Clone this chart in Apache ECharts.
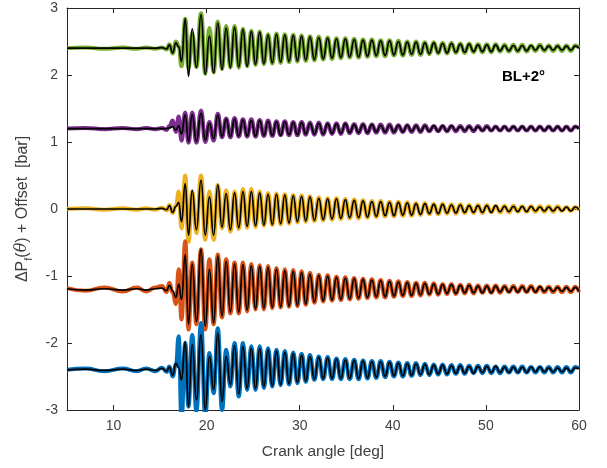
<!DOCTYPE html>
<html><head><meta charset="utf-8">
<script src="https://cdn.jsdelivr.net/npm/echarts@6/dist/echarts.min.js"></script>
<style>html,body{margin:0;padding:0;background:#fff}#c{width:607px;height:468px}</style>
</head><body><div id="c"></div><script>
// Crank-angle positions of the read points (extrema of the oscillations)
const angles = [
  5, 7, 9, 11, 12.5, 13.5, 14.5, 15.2, 15.7, 16.0, 16.35, 16.7, 17.0, 17.3,
  17.7, 18.05, 18.45, 18.9, 19.4, 19.85, 20.3, 20.75, 21.2, 21.65, 22.1, 22.55, 23.0, 23.45, 23.9, 24.35, 24.8, 25.25, 25.7, 26.15, 26.6,
  27.05, 27.5, 27.95, 28.4, 28.85, 29.3, 29.75, 30.2, 30.65, 31.1,
  31.57, 32.05, 32.52, 33.0, 33.47, 33.95, 34.42, 34.9, 35.37, 35.85, 36.32, 36.8, 37.27, 37.75, 38.22, 38.7, 39.17, 39.65,
  40.12, 40.6, 41.07, 41.55, 42.02, 42.5, 42.97, 43.45, 43.92, 44.4, 44.87, 45.35, 45.82, 46.3, 46.77, 47.25, 47.72, 48.2, 48.67, 49.15, 49.62,
  50.1, 50.57, 51.05, 51.52, 52.0, 52.47, 52.95, 53.42, 53.9, 54.37, 54.85, 55.32, 55.8, 56.27, 56.75, 57.22, 57.7, 58.17, 58.65, 59.12, 59.6,
  60
];
const offsets = [2.4, 1.2, 0, -1.2, -2.4];
const xTicks = [10, 20, 30, 40, 50, 60];
const yTicks = [-3, -2, -1, 0, 1, 2, 3];

const greenExp = [
  0, 0.01, -0.01, 0.01, -0.01, 0.01, -0.01, 0.01, -0.02, 0.06, -0.08, 0.1, 0.03, -0.27,
  0.44, -0.3, 0.22, -0.28, 0.52, -0.38, 0.3, -0.36, 0.4, -0.31, 0.33, -0.29, 0.33, -0.29, 0.29, -0.27, 0.26, -0.25, 0.25, -0.24, 0.21,
  -0.23, 0.22, -0.22, 0.21, -0.21, 0.2, -0.2, 0.19, -0.19, 0.18,
  -0.18, 0.17, -0.17, 0.16, -0.16, 0.15, -0.15, 0.15, -0.14, 0.14, -0.14, 0.13, -0.13, 0.13, -0.12, 0.12, -0.12, 0.12,
  -0.11, 0.11, -0.11, 0.1, -0.1, 0.1, -0.1, 0.09, -0.09, 0.09, -0.08, 0.08, -0.08, 0.08, -0.07, 0.07, -0.07, 0.07, -0.06, 0.06, -0.06,
  0.06, -0.06, 0.06, -0.05, 0.05, -0.05, 0.05, -0.05, 0.05, -0.05, 0.04, -0.04, 0.05, -0.04, 0.04, -0.04, 0.04, -0.04, 0.04, -0.04, 0.04,
  0
];
const greenModel = [
  0, 0, 0, 0, 0, 0, 0, 0.01, -0.01, 0.05, -0.07, 0.08, 0.02, -0.2,
  0.44, -0.42, 0.29, -0.29, 0.5, -0.39, 0.18, -0.37, 0.38, -0.32, 0.3, -0.29, 0.31, -0.28, 0.28, -0.27, 0.25, -0.24, 0.24, -0.23, 0.2,
  -0.22, 0.21, -0.21, 0.2, -0.2, 0.19, -0.19, 0.18, -0.18, 0.17,
  -0.17, 0.16, -0.16, 0.15, -0.15, 0.14, -0.14, 0.14, -0.13, 0.13, -0.13, 0.12, -0.12, 0.12, -0.11, 0.11, -0.11, 0.11,
  -0.1, 0.1, -0.1, 0.09, -0.09, 0.09, -0.09, 0.08, -0.08, 0.08, -0.07, 0.07, -0.07, 0.07, -0.06, 0.06, -0.06, 0.06, -0.05, 0.05, -0.05,
  0.05, -0.05, 0.05, -0.04, 0.04, -0.04, 0.04, -0.04, 0.04, -0.04, 0.04, -0.03, 0.04, -0.03, 0.03, -0.03, 0.03, -0.03, 0.03, -0.03, 0.03,
  0
];
const purpleExp = [
  0, 0.01, -0.01, 0.01, -0.01, 0.01, -0.01, 0.01, -0.02, 0.04, 0.12, -0.05, 0.18, -0.18,
  0.24, -0.21, 0.24, -0.21, 0.27, -0.2, 0.1, -0.18, 0.22, -0.13, 0.15, -0.13, 0.16, -0.12, 0.14, -0.12, 0.14, -0.12, 0.13, -0.11, 0.12,
  -0.11, 0.11, -0.1, 0.11, -0.1, 0.1, -0.1, 0.1, -0.09, 0.09,
  -0.09, 0.09, -0.09, 0.08, -0.08, 0.08, -0.08, 0.08, -0.07, 0.07, -0.07, 0.07, -0.07, 0.06, -0.06, 0.06, -0.06, 0.06,
  -0.06, 0.05, -0.05, 0.05, -0.05, 0.05, -0.05, 0.05, -0.04, 0.04, -0.04, 0.04, -0.04, 0.04, -0.04, 0.04, -0.04, 0.04, -0.04, 0.04, -0.03,
  0.04, -0.03, 0.03, -0.03, 0.03, -0.03, 0.03, -0.03, 0.03, -0.03, 0.03, -0.03, 0.03, -0.03, 0.03, -0.03, 0.03, -0.03, 0.03, -0.03, 0.03,
  0
];
const purpleModel = [
  0, 0, 0, 0, 0, 0, 0, 0, 0, 0.01, 0.03, -0.02, 0.04, -0.08,
  0.21, -0.19, 0.21, -0.19, 0.23, -0.17, 0.08, -0.15, 0.2, -0.12, 0.14, -0.12, 0.14, -0.11, 0.13, -0.11, 0.12, -0.11, 0.12, -0.1, 0.11,
  -0.1, 0.1, -0.1, 0.1, -0.09, 0.09, -0.09, 0.09, -0.08, 0.08,
  -0.08, 0.08, -0.08, 0.07, -0.07, 0.07, -0.07, 0.07, -0.06, 0.06, -0.06, 0.06, -0.06, 0.06, -0.05, 0.05, -0.05, 0.05,
  -0.05, 0.05, -0.05, 0.05, -0.04, 0.04, -0.04, 0.04, -0.04, 0.04, -0.04, 0.04, -0.04, 0.04, -0.03, 0.03, -0.03, 0.03, -0.03, 0.03, -0.03,
  0.03, -0.03, 0.03, -0.03, 0.03, -0.03, 0.03, -0.03, 0.03, -0.03, 0.03, -0.03, 0.03, -0.03, 0.03, -0.03, 0.03, -0.03, 0.03, -0.03, 0.03,
  0
];
const yellowExp = [
  0, 0.01, -0.01, 0.01, -0.01, 0.01, -0.01, 0.02, -0.02, 0.06, -0.06, 0.05, 0.26, -0.29,
  0.5, -0.49, 0.26, -0.36, 0.5, -0.46, 0.26, -0.46, 0.36, -0.29, 0.28, -0.34, 0.26, -0.3, 0.3, -0.28, 0.3, -0.27, 0.26, -0.25, 0.24,
  -0.24, 0.23, -0.23, 0.22, -0.22, 0.21, -0.2, 0.2, -0.19, 0.19,
  -0.18, 0.17, -0.17, 0.16, -0.16, 0.16, -0.15, 0.15, -0.14, 0.14, -0.14, 0.13, -0.13, 0.12, -0.12, 0.12, -0.11, 0.11,
  -0.11, 0.11, -0.1, 0.1, -0.1, 0.09, -0.09, 0.09, -0.08, 0.08, -0.08, 0.08, -0.07, 0.07, -0.07, 0.07, -0.06, 0.06, -0.06, 0.06, -0.06,
  0.06, -0.05, 0.05, -0.05, 0.05, -0.05, 0.05, -0.04, 0.04, -0.04, 0.04, -0.04, 0.04, -0.04, 0.04, -0.04, 0.04, -0.03, 0.03, -0.03, 0.03,
  -0.02
];
const yellowModel = [
  0, 0, 0, 0, 0, 0, 0, 0.01, -0.01, 0.05, -0.05, 0.04, 0.1, -0.19,
  0.38, -0.39, 0.28, -0.31, 0.43, -0.39, 0.18, -0.39, 0.36, -0.27, 0.23, -0.31, 0.24, -0.28, 0.26, -0.26, 0.26, -0.25, 0.24, -0.24, 0.22,
  -0.23, 0.22, -0.22, 0.21, -0.21, 0.2, -0.19, 0.19, -0.18, 0.18,
  -0.17, 0.16, -0.16, 0.15, -0.15, 0.15, -0.14, 0.14, -0.13, 0.13, -0.13, 0.12, -0.12, 0.11, -0.11, 0.11, -0.1, 0.1,
  -0.1, 0.1, -0.09, 0.09, -0.09, 0.08, -0.08, 0.08, -0.07, 0.07, -0.07, 0.07, -0.06, 0.06, -0.06, 0.06, -0.05, 0.05, -0.05, 0.05, -0.05,
  0.05, -0.05, 0.05, -0.04, 0.04, -0.04, 0.04, -0.04, 0.04, -0.04, 0.04, -0.03, 0.03, -0.03, 0.03, -0.03, 0.03, -0.03, 0.03, -0.03, 0.03,
  -0.01
];
const orangeExp = [
  0.02, -0.02, 0.03, -0.03, 0.03, -0.03, 0.03, 0.05, -0.04, 0.1, -0.05, -0.22, 0.3, -0.45,
  0.72, -0.6, 0.4, -0.52, 0.6, -0.6, 0.45, -0.52, 0.52, -0.42, 0.45, -0.36, 0.4, -0.36, 0.4, -0.33, 0.38, -0.3, 0.36, -0.3, 0.35,
  -0.28, 0.32, -0.27, 0.3, -0.26, 0.29, -0.25, 0.27, -0.23, 0.25,
  -0.2, 0.22, -0.18, 0.21, -0.17, 0.19, -0.16, 0.18, -0.15, 0.17, -0.14, 0.16, -0.13, 0.15, -0.12, 0.14, -0.12, 0.13,
  -0.11, 0.12, -0.1, 0.11, -0.1, 0.1, -0.09, 0.1, -0.08, 0.09, -0.08, 0.08, -0.07, 0.08, -0.07, 0.07, -0.06, 0.07, -0.06, 0.06, -0.05,
  0.06, -0.05, 0.06, -0.05, 0.05, -0.04, 0.05, -0.04, 0.05, -0.04, 0.05, -0.04, 0.04, -0.04, 0.04, -0.04, 0.04, -0.04, 0.04, -0.04, 0.04,
  -0.04
];
const orangeModel = [
  0.01, -0.01, 0.01, -0.01, 0.01, -0.01, 0.01, 0.02, -0.02, 0.06, -0.02, -0.12, 0.08, -0.15,
  0.52, -0.52, 0.38, -0.48, 0.6, -0.55, 0.3, -0.5, 0.5, -0.4, 0.42, -0.34, 0.38, -0.34, 0.37, -0.31, 0.35, -0.29, 0.34, -0.28, 0.33,
  -0.27, 0.3, -0.26, 0.28, -0.25, 0.27, -0.24, 0.25, -0.22, 0.23,
  -0.19, 0.21, -0.17, 0.2, -0.16, 0.18, -0.15, 0.17, -0.14, 0.16, -0.13, 0.15, -0.12, 0.14, -0.11, 0.13, -0.11, 0.12,
  -0.1, 0.11, -0.09, 0.1, -0.09, 0.09, -0.08, 0.09, -0.07, 0.08, -0.07, 0.07, -0.06, 0.07, -0.06, 0.06, -0.05, 0.06, -0.05, 0.05, -0.05,
  0.05, -0.05, 0.05, -0.04, 0.04, -0.04, 0.04, -0.04, 0.04, -0.04, 0.04, -0.04, 0.04, -0.03, 0.03, -0.03, 0.03, -0.03, 0.03, -0.03, 0.03,
  -0.03
];
const blueExp = [
  0, 0.02, -0.02, 0.02, -0.02, 0.02, -0.02, 0.03, -0.03, 0.05, -0.1, 0.08, 0.5, -0.75,
  0.4, -0.55, 0.52, -0.62, 0.7, -0.7, 0.25, -0.35, 0.62, -0.6, 0.3, -0.25, 0.4, -0.4, 0.4, -0.3, 0.35, -0.3, 0.35, -0.27, 0.32,
  -0.25, 0.3, -0.23, 0.28, -0.22, 0.26, -0.2, 0.24, -0.18, 0.22,
  -0.15, 0.2, -0.14, 0.19, -0.14, 0.17, -0.14, 0.16, -0.14, 0.15, -0.14, 0.14, -0.13, 0.13, -0.12, 0.13, -0.11, 0.12,
  -0.1, 0.11, -0.1, 0.1, -0.09, 0.1, -0.08, 0.09, -0.08, 0.08, -0.07, 0.08, -0.07, 0.07, -0.06, 0.07, -0.06, 0.06, -0.05, 0.06, -0.05,
  0.06, -0.05, 0.05, -0.05, 0.05, -0.04, 0.05, -0.04, 0.05, -0.04, 0.04, -0.04, 0.04, -0.04, 0.04, -0.04, 0.04, -0.04, 0.04, -0.04, 0.04,
  0.02
];
const blueModel = [
  0, 0.01, -0.01, 0.01, -0.01, 0.01, -0.01, 0.02, -0.02, 0.04, -0.08, 0.1, 0.03, -0.15,
  0.42, -0.55, 0.38, -0.45, 0.52, -0.6, 0.2, -0.3, 0.55, -0.47, 0.2, -0.22, 0.36, -0.36, 0.35, -0.28, 0.32, -0.28, 0.32, -0.25, 0.3,
  -0.24, 0.28, -0.22, 0.26, -0.21, 0.24, -0.19, 0.22, -0.17, 0.2,
  -0.14, 0.19, -0.13, 0.18, -0.13, 0.16, -0.13, 0.15, -0.13, 0.14, -0.13, 0.13, -0.12, 0.12, -0.11, 0.12, -0.1, 0.11,
  -0.09, 0.1, -0.09, 0.09, -0.08, 0.09, -0.07, 0.08, -0.07, 0.07, -0.06, 0.07, -0.06, 0.06, -0.05, 0.06, -0.05, 0.05, -0.05, 0.05, -0.04,
  0.05, -0.04, 0.05, -0.04, 0.04, -0.04, 0.04, -0.04, 0.04, -0.04, 0.04, -0.03, 0.04, -0.03, 0.03, -0.03, 0.03, -0.03, 0.03, -0.03, 0.03,
  0.02
];

const expSeries = [greenExp, purpleExp, yellowExp, orangeExp, blueExp];
const modelSeries = [greenModel, purpleModel, yellowModel, orangeModel, blueModel];
const colors = ['#77AC30', '#7E2F8E', '#EDB120', '#D95319', '#0072BD'];

const FONT = 'Liberation Sans, Arial, Helvetica, sans-serif';
const AX = '#262626';
const TXT = '#404040';

function toData(vals, off) {
  if (vals.length !== angles.length) console.error('length mismatch', vals.length, angles.length);
  return angles.map((a, i) => [a, +(vals[i] + off).toFixed(3)]);
}

const series = [];
expSeries.forEach((v, k) => {
  series.push({
    type: 'line', data: toData(v, offsets[k]), smooth: 0.5, smoothMonotone: 'x',
    showSymbol: false, symbol: 'none', silent: true, z: 2,
    lineStyle: { color: colors[k], width: 4 }
  });
});
modelSeries.forEach((v, k) => {
  series.push({
    type: 'line', data: toData(v, offsets[k]), smooth: 0.5, smoothMonotone: 'x',
    showSymbol: false, symbol: 'none', silent: true, z: 3,
    lineStyle: { color: '#000', width: 1.7 }
  });
});

const axisCommon = {
  axisLine: { show: true, onZero: false, lineStyle: { color: AX, width: 1 } },
  splitLine: { show: false }
};

const option = {
  animation: false,
  backgroundColor: '#fff',
  grid: { left: 67, right: 28, top: 8, bottom: 58, containLabel: false },
  xAxis: [
    Object.assign({}, axisCommon, {
      type: 'value', min: 5, max: 60, position: 'bottom',
      axisTick: { inside: true, length: 5, customValues: xTicks, lineStyle: { color: AX } },
      axisLabel: { customValues: xTicks, color: TXT, fontSize: 14, margin: 9, fontFamily: FONT },
      name: 'Crank angle [deg]', nameLocation: 'middle', nameGap: 34,
      nameTextStyle: { fontSize: 15.5, color: TXT, fontFamily: FONT }
    }),
    Object.assign({}, axisCommon, {
      type: 'value', min: 5, max: 60, position: 'top',
      axisTick: { inside: true, length: 5, customValues: xTicks, lineStyle: { color: AX } },
      axisLabel: { show: false }
    })
  ],
  yAxis: [
    Object.assign({}, axisCommon, {
      type: 'value', min: -3, max: 3, interval: 1, position: 'left',
      axisTick: { inside: true, length: 5, customValues: yTicks, lineStyle: { color: AX } },
      axisLabel: { customValues: yTicks, color: TXT, fontSize: 14, margin: 9, fontFamily: FONT },
      name: '{t|ΔP}{s|f}{t|(}{i|θ}{t|) + Offset  [bar]}',
      nameLocation: 'middle', nameGap: 22, nameRotate: 90,
      nameTextStyle: {
        color: TXT, fontFamily: FONT, fontSize: 16,
        rich: {
          t: { fontSize: 16, color: TXT, fontFamily: FONT, verticalAlign: 'middle', lineHeight: 20 },
          s: { fontSize: 11, color: TXT, fontFamily: FONT, verticalAlign: 'bottom', lineHeight: 25 },
          i: { fontSize: 16, color: TXT, fontFamily: 'DejaVu Serif, serif', fontStyle: 'italic', verticalAlign: 'middle', lineHeight: 20 }
        }
      }
    }),
    Object.assign({}, axisCommon, {
      type: 'value', min: -3, max: 3, interval: 1, position: 'right',
      axisTick: { inside: true, length: 5, customValues: yTicks, lineStyle: { color: AX } },
      axisLabel: { show: false }
    })
  ],
  graphic: [{
    type: 'text', left: 502, top: 69, z: 10,
    style: { text: 'BL+2°', font: 'bold 15px ' + FONT, fill: '#000' }
  }],
  series: series
};

const chart = echarts.init(document.getElementById('c'), null, { renderer: 'canvas' });
chart.setOption(option);
</script></body></html>
